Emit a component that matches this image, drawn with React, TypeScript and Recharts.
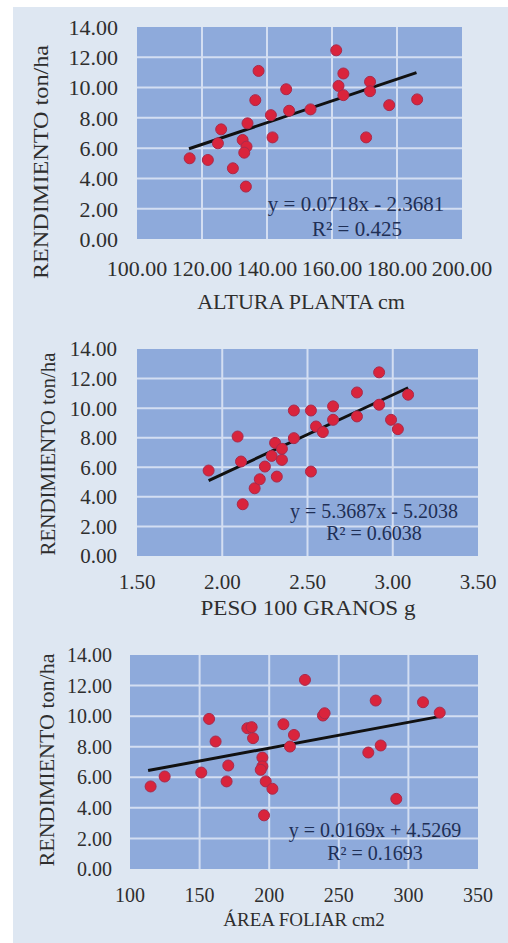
import { ScatterChart, Scatter, XAxis, YAxis, CartesianGrid, ReferenceLine } from "recharts";

// ALTURA PLANTA
const alturaX = [116.2, 121.8, 125.9, 124.9, 129.5, 133.5, 132.5, 133.7, 133.0, 134.0, 136.4, 137.4, 141.2, 141.7, 145.9, 146.8, 153.4, 161.3, 163.5, 162.0, 163.5, 170.5, 171.7, 171.7, 177.6, 186.2];
const alturaY = [5.33, 5.22, 7.24, 6.32, 4.67, 3.46, 6.54, 6.10, 5.70, 7.64, 9.17, 11.10, 8.18, 6.71, 9.89, 8.47, 8.56, 12.46, 10.93, 10.11, 9.50, 6.71, 10.38, 9.76, 8.84, 9.22];
const alturaTrendX = [116, 186];
const alturaTrendY = [5.96, 10.99];
const alturaTicks = [100, 120, 140, 160, 180, 200];

// PESO 100 GRANOS
const pesoX = [1.92, 2.09, 2.11, 2.12, 2.19, 2.22, 2.25, 2.29, 2.31, 2.32, 2.35, 2.35, 2.42, 2.42, 2.52, 2.52, 2.55, 2.59, 2.65, 2.65, 2.79, 2.79, 2.92, 2.92, 2.99, 3.03, 3.09];
const pesoY = [5.78, 8.08, 6.39, 3.50, 4.58, 5.19, 6.05, 6.77, 7.65, 5.37, 7.25, 6.50, 7.97, 9.84, 9.84, 5.71, 8.76, 8.38, 10.12, 9.21, 11.06, 9.44, 12.42, 10.23, 9.21, 8.58, 10.91];
const pesoTrendX = [1.92, 3.09];
const pesoTrendY = [5.10, 11.38];
const pesoTicks = [1.5, 2.0, 2.5, 3.0, 3.5];

// AREA FOLIAR
const areaX = [114.8, 124.9, 151.2, 156.8, 161.5, 169.4, 170.6, 184.3, 187.4, 188.4, 195.1, 195.1, 193.9, 197.5, 202.3, 196.3, 210.2, 217.8, 214.9, 225.7, 238.6, 239.8, 271.2, 276.5, 280.1, 291.3, 310.5, 322.5];
const areaY = [5.40, 6.05, 6.31, 9.82, 8.34, 5.73, 6.77, 9.21, 9.28, 8.56, 7.29, 6.71, 6.49, 5.73, 5.25, 3.51, 9.47, 8.77, 8.01, 12.37, 10.04, 10.19, 7.62, 11.02, 8.08, 4.59, 10.91, 10.23];
const areaTrendX = [113, 322];
const areaTrendY = [6.44, 9.97];
const areaTicks = [100, 150, 200, 250, 300, 350];

const yTicks = [0, 2, 4, 6, 8, 10, 12, 14];

const FONT = "Liberation Serif, DejaVu Serif, serif";
const PLOT_BG = "#8eaadb";
const GRID = "#d3def2";

const Dot = (p: any) => (
  <circle cx={p.cx} cy={p.cy} r={5.5} fill="#d9243c" stroke="#a82a4c" strokeWidth={1} />
);

type PanelProps = {
  top: number;
  height: number;
  margin: { top: number; right: number; bottom: number; left: number };
  xs: number[];
  ys: number[];
  trendX: number[];
  trendY: number[];
  xTicks: number[];
  xFmt: (v: number) => string;
  tickSize: number;
  xTickMargin: number;
  yTickMargin: number;
};

function Panel({ top, height, margin, xs, ys, trendX, trendY, xTicks, xFmt, tickSize, xTickMargin, yTickMargin }: PanelProps) {
  const data = xs.map((x, i) => ({ x, y: ys[i] }));
  const seg = trendX.map((x, i) => ({ x, y: trendY[i] }));
  const tick = { fontSize: tickSize, fill: "#2e2e2e", fontFamily: FONT };
  return (
    <div style={{ position: "absolute", left: 0, top }}>
      <ScatterChart width={508} height={height} margin={margin} style={{ fontFamily: FONT }}>
        <CartesianGrid
          fill={PLOT_BG}
          fillOpacity={1}
          stroke={GRID}
          strokeWidth={2}
          horizontalValues={yTicks.slice(1, -1)}
          verticalValues={xTicks.slice(1, -1)}
        />
        <XAxis
          type="number"
          dataKey="x"
          domain={[xTicks[0], xTicks[xTicks.length - 1]]}
          ticks={xTicks}
          interval={0}
          tickFormatter={xFmt}
          axisLine={false}
          tickLine={false}
          tickMargin={xTickMargin}
          height={30}
          tick={tick}
        />
        <YAxis
          type="number"
          dataKey="y"
          domain={[0, 14]}
          ticks={yTicks}
          interval={0}
          tickFormatter={(v: number) => v.toFixed(2)}
          axisLine={false}
          tickLine={false}
          tickMargin={yTickMargin}
          width={60}
          tick={tick}
        />
        <Scatter data={data} shape={Dot} isAnimationActive={false} />
        <ReferenceLine segment={seg} stroke="#111" strokeWidth={3} />
      </ScatterChart>
    </div>
  );
}

function Txt({ x, y, size, children, color = "#2e2e2e", rotate = false, scale = 1 }: any) {
  return (
    <div
      style={{
        position: "absolute",
        left: x,
        top: y,
        transform: `translate(-50%, -50%)${rotate ? " rotate(-90deg)" : ""} scaleX(${scale})`,
        whiteSpace: "nowrap",
        fontFamily: FONT,
        fontSize: size,
        lineHeight: 1,
        color,
      }}
    >
      {children}
    </div>
  );
}

const EQ = "#1f2f55";

export default function App() {
  return (
    <div style={{ position: "absolute", left: 0, top: 0, width: 508, height: 943, background: "#fff", overflow: "hidden" }}>
      <div style={{ position: "absolute", left: 13, top: 7, width: 495, height: 936, background: "#dee7f2" }} />

      <Panel
        top={0}
        height={300}
        margin={{ top: 27, right: 46, bottom: 31, left: 77 }}
        xs={alturaX}
        ys={alturaY}
        trendX={alturaTrendX}
        trendY={alturaTrendY}
        xTicks={alturaTicks}
        xFmt={(v) => v.toFixed(2)}
        tickSize={22}
        xTickMargin={15}
        yTickMargin={13}
      />
      <Panel
        top={300}
        height={310}
        margin={{ top: 49, right: 30, bottom: 24, left: 77 }}
        xs={pesoX}
        ys={pesoY}
        trendX={pesoTrendX}
        trendY={pesoTrendY}
        xTicks={pesoTicks}
        xFmt={(v) => v.toFixed(2)}
        tickSize={21}
        xTickMargin={12}
        yTickMargin={14}
      />
      <Panel
        top={610}
        height={333}
        margin={{ top: 45, right: 30, bottom: 44, left: 70 }}
        xs={areaX}
        ys={areaY}
        trendX={areaTrendX}
        trendY={areaTrendY}
        xTicks={areaTicks}
        xFmt={(v) => String(v)}
        tickSize={20}
        xTickMargin={13}
        yTickMargin={12}
      />

      {/* axis titles */}
      <Txt x={41} y={162} size={22} rotate scale={1.1}>RENDIMIENTO ton/ha</Txt>
      <Txt x={301} y={302} size={22}>ALTURA PLANTA cm</Txt>
      <Txt x={48} y={454} size={21} rotate>RENDIMIENTO ton/ha</Txt>
      <Txt x={308} y={608} size={22} scale={1.05}>PESO 100 GRANOS g</Txt>
      <Txt x={47} y={760} size={22} rotate>RENDIMIENTO ton/ha</Txt>
      <Txt x={304} y={919} size={19}>ÁREA FOLIAR cm2</Txt>

      {/* regression labels */}
      <Txt x={356} y={204} size={21} color={EQ}>y = 0.0718x - 2.3681</Txt>
      <Txt x={357} y={229} size={21} color={EQ}>R² = 0.425</Txt>
      <Txt x={374} y={511} size={20} color={EQ}>y = 5.3687x - 5.2038</Txt>
      <Txt x={374} y={533} size={20} color={EQ}>R² = 0.6038</Txt>
      <Txt x={375} y={830} size={20} color={EQ}>y = 0.0169x + 4.5269</Txt>
      <Txt x={375} y={853} size={20} color={EQ}>R² = 0.1693</Txt>
    </div>
  );
}
